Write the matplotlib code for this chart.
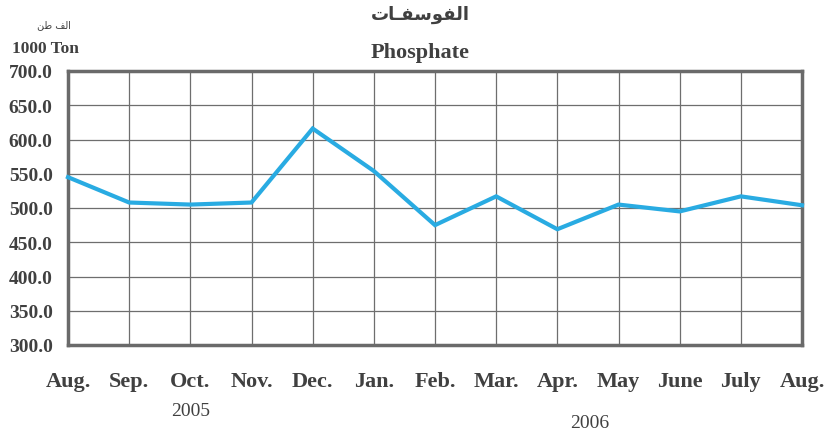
import matplotlib
matplotlib.use("Agg")
import matplotlib.pyplot as plt

months = ["Aug.", "Sep.", "Oct.", "Nov.", "Dec.", "Jan.", "Feb.", "Mar.",
          "Apr.", "May", "June", "July", "Aug."]
values = [545, 508, 505, 508, 616, 554, 475, 517, 469, 505, 495, 517, 504]
yticks = [300, 350, 400, 450, 500, 550, 600, 650, 700]
years = ["2005", "2006"]

title_ar = "\uFE95\uFE8E\u0640\uFED4\uFEB3\uFEEE\uFED4\uFEDF\uFE8D"
unit_ar = "\uFEE6\uFEC3 \uFED2\uFEDF\uFE8D"

fig = plt.figure(figsize=(8.27, 4.35), dpi=100)
ax = fig.add_axes([68/827, 1-346/435, (802-68)/827, (346-72)/435])

x = list(range(len(months)))
ax.plot(x, values, color="#29abe2", lw=3, solid_joinstyle="miter", zorder=3, clip_on=False)

ax.set_xlim(0, len(months)-1)
ax.set_ylim(300, 700)
ax.set_yticks(yticks)
ax.set_yticklabels([f"{v:.1f}" for v in yticks])
ax.set_xticks(x)
ax.set_xticklabels(months)
ax.grid(True, color="#6e6e6e", lw=0.9)
ax.set_axisbelow(True)
ax.tick_params(length=0)
for s in ax.spines.values():
    s.set_color("#6a6a6a")
    s.set_linewidth(2.5)

serif = "Liberation Serif"
txt = "#404040"
for lab in ax.get_yticklabels():
    lab.set_fontfamily(serif); lab.set_fontweight("bold"); lab.set_fontsize(14); lab.set_color(txt)
for lab in ax.get_xticklabels():
    lab.set_fontfamily(serif); lab.set_fontweight("bold"); lab.set_fontsize(16); lab.set_color(txt)
ax.tick_params(axis="y", pad=11)
ax.tick_params(axis="x", pad=19)

fig.text(191/827, 1-412/435, years[0], family=serif, fontsize=14, color=txt, ha="center", va="center")
fig.text(590/827, 1-424/435, years[1], family=serif, fontsize=14, color=txt, ha="center", va="center")

fig.text(420/827, 1-15/435, title_ar, family="DejaVu Sans", fontweight="bold", fontsize=13, color=txt, ha="center", va="center")
fig.text(420/827, 1-53/435, "Phosphate", family=serif, fontweight="bold", fontsize=16, color=txt, ha="center", va="center")
fig.text(54/827, 1-25/435, unit_ar, family="DejaVu Sans", fontsize=7, color=txt, ha="center", va="center")
fig.text(12/827, 1-49/435, "1000 Ton", family=serif, fontweight="bold", fontsize=12.5, color=txt, ha="left", va="center")

fig.savefig("out.png", dpi=100)
